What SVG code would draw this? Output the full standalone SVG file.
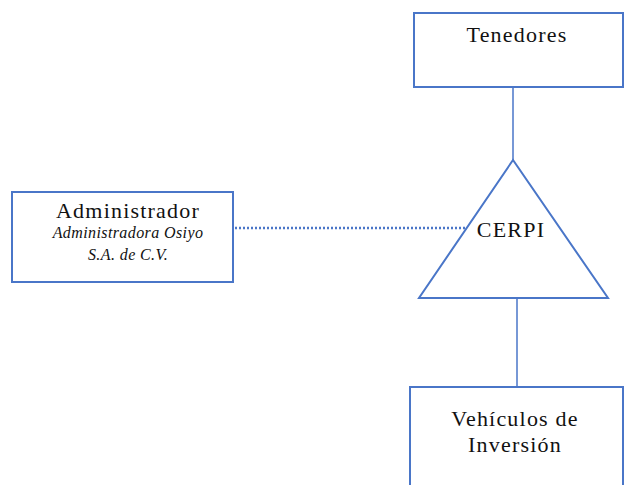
<svg xmlns="http://www.w3.org/2000/svg" width="625" height="485" viewBox="0 0 625 485">
<style>
.box{fill:#fff;stroke:#4a76c8;stroke-width:2}
.ln{stroke:#4a76c8;stroke-width:1.5;fill:none}
.dot{stroke:#4a76c8;stroke-width:2.5;stroke-dasharray:2 2;fill:none}
.t{font-family:'Liberation Serif','Times New Roman',serif;font-size:22px;fill:#111;text-anchor:middle;letter-spacing:1.2px}
.i{font-family:'Liberation Serif','Times New Roman',serif;font-size:16px;font-style:italic;fill:#111;text-anchor:middle;letter-spacing:0.4px}
</style>
<rect width="625" height="485" fill="#fff"/>
<g id="connectors">
<line class="ln" x1="513" y1="87" x2="513" y2="160"/>
<line class="ln" x1="517" y1="298" x2="517" y2="387"/>
<line class="dot" x1="235" y1="228" x2="466" y2="228"/>
</g>
<g id="tenedores">
<rect class="box" x="414" y="13" width="209" height="74"/>
<text class="t" x="517" y="42">Tenedores</text>
</g>
<g id="cerpi">
<polygon class="box" points="513,160 419,298 608,298"/>
<text class="t" x="511" y="237">CERPI</text>
</g>
<g id="administrador">
<rect class="box" x="12" y="192" width="221" height="90"/>
<text class="t" x="128" y="218">Administrador</text>
<text class="i" x="128" y="238">Administradora Osiyo</text>
<text class="i" x="128" y="260">S.A. de C.V.</text>
</g>
<g id="vehiculos">
<rect class="box" x="410" y="387" width="213" height="110"/>
<text class="t" x="515" y="426">Vehículos de</text>
<text class="t" x="515" y="452">Inversión</text>
</g>
</svg>
